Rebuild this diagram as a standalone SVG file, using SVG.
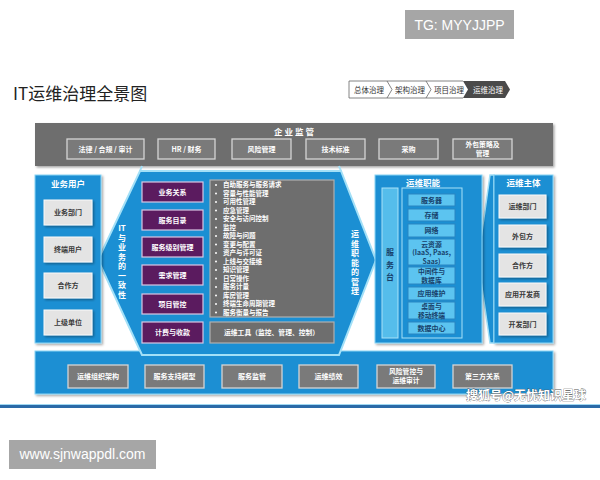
<svg xmlns="http://www.w3.org/2000/svg" width="600" height="480" viewBox="0 0 600 480">
<defs>
<style>
text{font-family:"Noto Sans CJK SC","Noto Sans",sans-serif}
.lat{font-family:"Liberation Sans",Arial,sans-serif}
.w{fill:#fff;font-weight:bold;font-size:7px;text-anchor:middle}
.w2{fill:#fff;font-weight:bold;font-size:6.8px;text-anchor:middle}
.gbox{fill:#7a7a7a;stroke:#d4d4d4;stroke-width:1.3}
.panel{fill:#1b8fd3;stroke:#8ad5f5;stroke-width:1}
.pur{fill:#5b1b5f;stroke:#d9c6e3;stroke-width:1.2}
.lbox{fill:#e4e4e4;stroke:#fafafa;stroke-width:1}
.dk{fill:#3a3a3a;font-weight:bold;font-size:7px;text-anchor:middle}
.it{fill:#5cc4f0;stroke:#2a86c2;stroke-width:1}
.itx{fill:#17406a;font-weight:bold;font-size:7px;text-anchor:middle}
.itx2{fill:#17406a;font-weight:bold;font-size:6.8px;text-anchor:middle}
.li{fill:#fff;font-size:6.5px;font-weight:bold}
.tl{fill:#fff;font-size:6.8px;font-weight:bold}
.bu{fill:#fff}
.bc{fill:#333;font-size:7.5px;text-anchor:middle}
.ttl{fill:#fff;font-weight:bold;font-size:8.5px;text-anchor:middle}
.vt{fill:#fff;font-weight:bold;font-size:8px;text-anchor:middle}
</style>
<filter id="sh" x="-5%" y="-5%" width="115%" height="120%">
<feDropShadow dx="1.5" dy="1.5" stdDeviation="1" flood-color="#000" flood-opacity="0.35"/>
</filter>
</defs>
<rect width="600" height="480" fill="#fff"/>

<g id="watermark-tg">
<rect x="405" y="10" width="109" height="29" fill="#a6a6a6"/>
<text class="lat" x="459.5" y="30" font-size="14" fill="#fff" text-anchor="middle">TG: MYYJJPP</text>
</g>

<g id="title">
<text x="13" y="100" font-size="17" fill="#222">IT运维治理全景图</text>
</g>

<g id="breadcrumb">
<path d="M463,81 H349 V98 H463" fill="none" stroke="#666" stroke-width="0.8"/>
<polyline points="387,81 392,89.5 387,98" fill="none" stroke="#666" stroke-width="0.8"/>
<polyline points="426,81 431,89.5 426,98" fill="none" stroke="#666" stroke-width="0.8"/>
<polygon points="463,81 505,81 510,89.5 505,98 463,98 468,89.5" fill="#4a4a4a"/>
<text class="bc" x="369" y="92.5">总体治理</text>
<text class="bc" x="410" y="92.5">架构治理</text>
<text class="bc" x="449" y="92.5">项目治理</text>
<text class="bc" x="488" y="92.5" style="fill:#fff">运维治理</text>
</g>

<g id="enterprise-supervision">
<rect x="35" y="123" width="518" height="43" fill="#6e6e6e" filter="url(#sh)"/>
<text class="ttl" x="294" y="135">企 业 监 管</text>
<rect class="gbox" x="67" y="139" width="77" height="20"/>
<text class="w" x="105.5" y="151.5">法律 / 合规 / 审计</text>
<rect class="gbox" x="158" y="139" width="57" height="20"/>
<text class="w" x="186.5" y="151.5">HR / 财务</text>
<rect class="gbox" x="232" y="139" width="59" height="20"/>
<text class="w" x="261.5" y="151.5">风险管理</text>
<rect class="gbox" x="306" y="139" width="59" height="20"/>
<text class="w" x="335.5" y="151.5">技术标准</text>
<rect class="gbox" x="379" y="139" width="59" height="20"/>
<text class="w" x="408.5" y="151.5">采购</text>
<rect class="gbox" x="453" y="139" width="59" height="20"/>
<text class="w2" x="482.5" y="147.3">外包策略及</text>
<text class="w2" x="482.5" y="155.8">管理</text>
</g>

<g id="it-service-supervision">
<rect x="35" y="351" width="518" height="43" fill="#1b8fd3" stroke="#8ad5f5" stroke-width="1" filter="url(#sh)"/>
<rect class="gbox" x="68" y="365" width="60" height="23"/>
<text class="w" x="98" y="379">运维组织架构</text>
<rect class="gbox" x="145" y="365" width="59" height="23"/>
<text class="w" x="174.5" y="379">服务支持模型</text>
<rect class="gbox" x="222" y="365" width="60" height="23"/>
<text class="w" x="252" y="379">服务监管</text>
<rect class="gbox" x="299" y="365" width="59" height="23"/>
<text class="w" x="328.5" y="379">运维绩效</text>
<rect class="gbox" x="377" y="365" width="58" height="23"/>
<text class="w2" x="406" y="374.3">风险管控与</text>
<text class="w2" x="406" y="382.8">运维审计</text>
<rect class="gbox" x="453" y="365" width="59" height="23"/>
<text class="w" x="482.5" y="379">第三方关系</text>
</g>

<g id="arrows">
<polygon points="140,171 341,171 376,260 339,355 142,355 98,260" fill="#1b8fd3" stroke="#a3e0f7" stroke-width="2"/>
<line x1="142" y1="166" x2="140" y2="171" stroke="#a3e0f7" stroke-width="2"/>
<line x1="339" y1="166" x2="341" y2="171" stroke="#a3e0f7" stroke-width="2"/>
<polygon points="490,175 494,175 494,343 490,343 478,260" fill="#1b8fd3" stroke="#a3e0f7" stroke-width="1.5"/>
</g>

<g id="it-business-alignment">
<text class="vt" x="122" y="231">IT</text>
<text class="vt" x="122" y="240.5">与</text>
<text class="vt" x="122" y="250">业</text>
<text class="vt" x="122" y="259.5">务</text>
<text class="vt" x="122" y="269">的</text>
<text class="vt" x="122" y="278.5">一</text>
<text class="vt" x="122" y="288">致</text>
<text class="vt" x="122" y="297.5">性</text>
</g>

<g id="ops-function-management">
<text class="vt" x="355" y="237">运</text>
<text class="vt" x="355" y="246.5">维</text>
<text class="vt" x="355" y="256">职</text>
<text class="vt" x="355" y="265.5">能</text>
<text class="vt" x="355" y="275">的</text>
<text class="vt" x="355" y="284.5">管</text>
<text class="vt" x="355" y="294">理</text>
</g>

<g id="business-users">
<rect class="panel" x="35" y="175" width="66" height="168" filter="url(#sh)"/>
<text class="ttl" x="68" y="187">业务用户</text>
<rect class="lbox" x="44" y="200" width="48" height="25" filter="url(#sh)"/>
<text class="dk" x="68" y="215">业务部门</text>
<rect class="lbox" x="44" y="237" width="48" height="25" filter="url(#sh)"/>
<text class="dk" x="68" y="252">终端用户</text>
<rect class="lbox" x="44" y="273" width="48" height="25" filter="url(#sh)"/>
<text class="dk" x="68" y="288">合作方</text>
<rect class="lbox" x="44" y="310" width="48" height="25" filter="url(#sh)"/>
<text class="dk" x="68" y="325">上级单位</text>
</g>

<g id="service-processes">
<rect class="pur" x="142" y="182" width="61" height="20"/>
<text class="w" x="172.5" y="194.5">业务关系</text>
<rect class="pur" x="142" y="210" width="61" height="20"/>
<text class="w" x="172.5" y="222.5">服务目录</text>
<rect class="pur" x="142" y="237" width="61" height="20"/>
<text class="w" x="172.5" y="249.5">服务级别管理</text>
<rect class="pur" x="142" y="265" width="61" height="20"/>
<text class="w" x="172.5" y="277.5">需求管理</text>
<rect class="pur" x="142" y="294" width="61" height="20"/>
<text class="w" x="172.5" y="306.5">项目管控</text>
<rect class="pur" x="142" y="322" width="61" height="21"/>
<text class="w" x="172.5" y="335">计费与收款</text>
</g>

<g id="ops-activities">
<rect x="210" y="180" width="124" height="137" fill="#6e6e6e" stroke="#b0b0b0" stroke-width="1.2"/>
<g class="bu">
<circle cx="216" cy="185" r="1"/><circle cx="216" cy="193.5" r="1"/><circle cx="216" cy="202" r="1"/><circle cx="216" cy="210.5" r="1"/>
<circle cx="216" cy="219" r="1"/><circle cx="216" cy="227.5" r="1"/><circle cx="216" cy="236" r="1"/><circle cx="216" cy="244.5" r="1"/>
<circle cx="216" cy="253" r="1"/><circle cx="216" cy="261.5" r="1"/><circle cx="216" cy="270" r="1"/><circle cx="216" cy="278.5" r="1"/>
<circle cx="216" cy="287" r="1"/><circle cx="216" cy="295.5" r="1"/><circle cx="216" cy="304" r="1"/><circle cx="216" cy="312.5" r="1"/>
</g>
<g class="li">
<text x="223" y="187.3">自助服务与服务请求</text>
<text x="223" y="195.8">容量与性能管理</text>
<text x="223" y="204.3">可用性管理</text>
<text x="223" y="212.8">应急管理</text>
<text x="223" y="221.3">安全与访问控制</text>
<text x="223" y="229.8">监控</text>
<text x="223" y="238.3">故障与问题</text>
<text x="223" y="246.8">变更与配置</text>
<text x="223" y="255.3">资产与许可证</text>
<text x="223" y="263.8">上线与交接维</text>
<text x="223" y="272.3">知识管理</text>
<text x="223" y="280.8">日常操作</text>
<text x="223" y="289.3">服务计量</text>
<text x="223" y="297.8">库房管理</text>
<text x="223" y="306.3">终端生命周期管理</text>
<text x="223" y="314.8">服务衡量与报告</text>
</g>
</g>

<g id="ops-tools">
<rect x="210" y="322" width="124" height="21" fill="#6e6e6e" stroke="#b0b0b0" stroke-width="1.2"/>
<text class="tl" x="224" y="335">运维工具（监控、管理、控制）</text>
</g>

<g id="ops-functions">
<rect class="panel" x="375" y="175" width="107" height="168" filter="url(#sh)"/>
<text class="ttl" x="423" y="186">运维职能</text>
<rect x="382" y="188" width="16" height="150" fill="#55bdeb" stroke="#a8e2f8" stroke-width="1"/>
<text class="itx" style="font-size:8px" x="390" y="255">服</text>
<text class="itx" style="font-size:8px" x="390" y="268">务</text>
<text class="itx" style="font-size:8px" x="390" y="280">台</text>
<rect x="402" y="188" width="60" height="150" fill="#1b8fd3" stroke="#a8e2f8" stroke-width="1"/>
<rect class="it" x="408" y="194" width="47" height="12"/>
<text class="itx" x="431.5" y="202.5">服务器</text>
<rect class="it" x="408" y="209" width="47" height="12"/>
<text class="itx" x="431.5" y="217.5">存储</text>
<rect class="it" x="408" y="224" width="47" height="13"/>
<text class="itx" x="431.5" y="233">网络</text>
<rect class="it" x="408" y="239" width="47" height="26"/>
<text class="itx2" x="431.5" y="246.5">云资源</text>
<text class="itx2" x="431.5" y="255">(IaaS, Paas,</text>
<text class="itx2" x="431.5" y="263.5">Saas)</text>
<rect class="it" x="408" y="267" width="47" height="17"/>
<text class="itx2" x="431.5" y="274.3">中间件与</text>
<text class="itx2" x="431.5" y="282.8">数据库</text>
<rect class="it" x="408" y="287" width="47" height="13"/>
<text class="itx" x="431.5" y="296">应用维护</text>
<rect class="it" x="408" y="302" width="47" height="17"/>
<text class="itx2" x="431.5" y="309.3">桌面与</text>
<text class="itx2" x="431.5" y="317.8">移动终端</text>
<rect class="it" x="408" y="322" width="47" height="12"/>
<text class="itx" x="431.5" y="330.5">数据中心</text>
</g>

<g id="ops-subjects">
<rect class="panel" x="494" y="175" width="59" height="168" filter="url(#sh)"/>
<text class="ttl" x="523.5" y="186">运维主体</text>
<rect class="lbox" x="499" y="195" width="47" height="23" filter="url(#sh)"/>
<text class="dk" x="522.5" y="209">运维部门</text>
<rect class="lbox" x="499" y="225" width="47" height="22" filter="url(#sh)"/>
<text class="dk" x="522.5" y="238.5">外包方</text>
<rect class="lbox" x="499" y="254" width="47" height="23" filter="url(#sh)"/>
<text class="dk" x="522.5" y="268">合作方</text>
<rect class="lbox" x="499" y="283" width="47" height="23" filter="url(#sh)"/>
<text class="dk" x="522.5" y="297">应用开发商</text>
<rect class="lbox" x="499" y="313" width="47" height="22" filter="url(#sh)"/>
<text class="dk" x="522.5" y="326.5">开发部门</text>
</g>

<g id="footer-line">
<rect x="0" y="404" width="600" height="1.5" fill="#9fd8f2"/>
<rect x="0" y="405" width="600" height="3" fill="#2a6aa8"/>
</g>

<g id="watermark-sohu">
<text x="466" y="399.5" font-size="12" font-weight="bold" fill="#fff" stroke="#555" stroke-width="0.6" paint-order="stroke">搜狐号@无忧知识星球</text>
</g>

<g id="watermark-url">
<rect x="9" y="440" width="147" height="29" fill="#a6a6a6"/>
<text class="lat" x="82.5" y="459" font-size="14" fill="#fff" text-anchor="middle">www.sjnwappdl.com</text>
</g>
</svg>
